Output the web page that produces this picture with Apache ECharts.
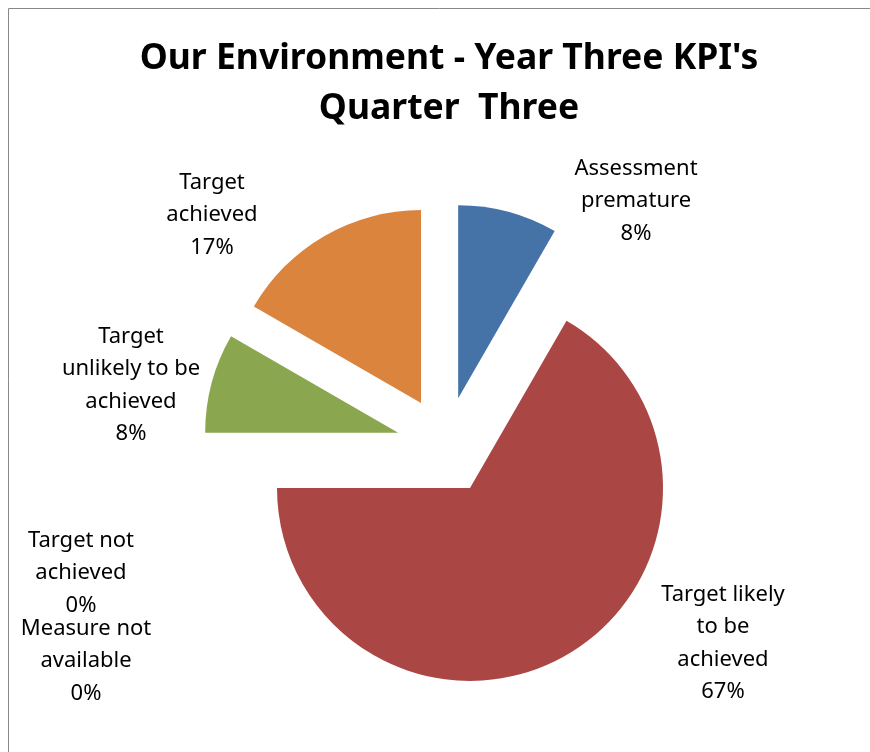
<!DOCTYPE html>
<html>
<head>
<meta charset="utf-8">
<script src="https://cdn.jsdelivr.net/npm/echarts@6/dist/echarts.min.js"></script>
<style>
  html, body { margin: 0; padding: 0; background: #fff; }
  #chart { width: 870px; height: 752px; }
</style>
</head>
<body>
<div id="chart"></div>
<script>
// slices, clockwise from 12 o'clock
const categories = ['Assessment premature', 'Target likely to be achieved', 'Target not achieved',
  'Measure not available', 'Target unlikely to be achieved', 'Target achieved'];
const labelLines = ['Assessment\npremature', 'Target likely\nto be\nachieved', 'Target not\nachieved',
  'Measure not\navailable', 'Target\nunlikely to be\nachieved', 'Target\nachieved'];
const counts = [1, 8, 0, 0, 1, 2];
const colors = ['#4573A8', '#AA4744', '#4198AF', '#7E619A', '#8AA64F', '#DB843E'];

// where excel put the data labels (centre of each text block)
const labelPos = [[636, 201], [723, 643], [81, 573], [86, 661], [131, 385], [212, 215]];

const total = counts.reduce((a, b) => a + b, 0);

const chart = echarts.init(document.getElementById('chart'));

const labelTexts = categories.map((c, i) => ({
  type: 'text',
  x: labelPos[i][0],
  y: labelPos[i][1],
  silent: true,
  style: {
    text: labelLines[i] + '\n' + Math.round(counts[i] / total * 100) + '%',
    fontFamily: 'Noto Sans',
    fontSize: 22,
    lineHeight: 32.5,
    fill: '#000',
    align: 'center',
    verticalAlign: 'middle'
  }
}));

const option = {
  animation: false,
  title: {
    text: "Our Environment - Year Three KPI's\nQuarter  Three",
    left: 444,
    top: 29,
    textAlign: 'center',
    textStyle: {
      fontFamily: 'Noto Sans',
      fontWeight: 'bold',
      fontSize: 35.5,
      lineHeight: 50,
      color: '#000'
    }
  },
  graphic: [{
    type: 'rect',
    shape: { x: 8.5, y: 8.5, width: 900, height: 800 },
    style: { fill: 'none', stroke: '#888', lineWidth: 1 },
    silent: true
  }].concat(labelTexts),
  series: [{
    type: 'pie',
    center: [445.5, 445.5],
    radius: 193,
    startAngle: 90,
    clockwise: true,
    selectedMode: 'multiple',
    selectedOffset: 49,
    emphasis: { scale: false },
    label: { show: false },
    labelLine: { show: false },
    data: categories.map((c, i) => ({
      name: c,
      value: counts[i],
      selected: true,
      itemStyle: { color: colors[i] }
    }))
  }]
};

chart.setOption(option);
</script>
</body>
</html>
